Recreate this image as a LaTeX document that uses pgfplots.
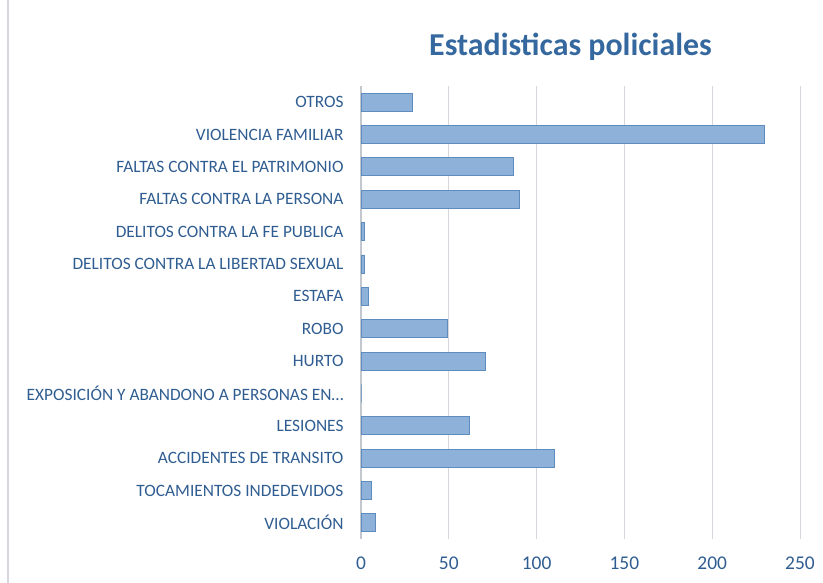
\documentclass[border=0pt]{standalone}
\usepackage{pgfplots}
\pgfplotsset{compat=1.18}
\usepackage{fontspec}
\setmainfont{Carlito}
\definecolor{lblcol}{HTML}{2F5D91}
\definecolor{titcol}{HTML}{35689E}
\definecolor{barfill}{HTML}{8DB1D8}
\definecolor{baredge}{HTML}{5F8CBE}
\definecolor{gridc}{HTML}{D4D7DC}
\begin{document}
\begin{tikzpicture}[x=1bp,y=1bp]
\path[use as bounding box] (0,0) rectangle (823,583);
\draw[gridc, line width=1.2bp] (8,0) -- (8,583);
\begin{axis}[
  at={(361bp,44bp)}, anchor=south west,
  scale only axis, width=439bp, height=453bp,
  xbar, bar width=18bp,
  xmin=0, xmax=250,
  ymin=-0.5, ymax=13.5,
  xtick={0,50,100,150,200,250},
  ytick={0,...,13},
  yticklabels={VIOLACIÓN,TOCAMIENTOS INDEDEVIDOS,ACCIDENTES DE TRANSITO,LESIONES,EXPOSICIÓN Y ABANDONO A PERSONAS EN…,HURTO,ROBO,ESTAFA,DELITOS CONTRA LA LIBERTAD SEXUAL,DELITOS CONTRA LA FE PUBLICA,FALTAS CONTRA LA PERSONA,FALTAS CONTRA EL PATRIMONIO,VIOLENCIA FAMILIAR,OTROS},
  axis line style={draw=none},
  axis x line*=bottom, axis y line*=left,
  major tick length=0pt,
  xmajorgrids, grid style={gridc, line width=1bp},
  extra x ticks={0}, extra x tick labels={},
  extra x tick style={grid style={draw=gridc!140, line width=1.2bp}},
  /pgf/number format/assume math mode=true,
  ticklabel style={text=lblcol},
  yticklabel style={font=\fontsize{17.4}{19}\selectfont, xshift=-14bp},
  xticklabel style={font=\fontsize{19.5}{21}\selectfont, yshift=-14bp},
  title={\textbf{Estadisticas policiales}},
  title style={font=\fontsize{32}{36}\selectfont, text=titcol, at={(0.5,1)}, yshift=16bp, xshift=-10bp},
  clip=false,
]
\addplot[fill=barfill, draw=baredge, line width=0.8bp] coordinates {
(8,0) (6,1) (110,2) (62,3) (0,4) (71,5) (49,6) (4,7) (2,8) (2,9) (90,10) (87,11) (230,12) (29,13)
};
\end{axis}
\end{tikzpicture}
\end{document}
